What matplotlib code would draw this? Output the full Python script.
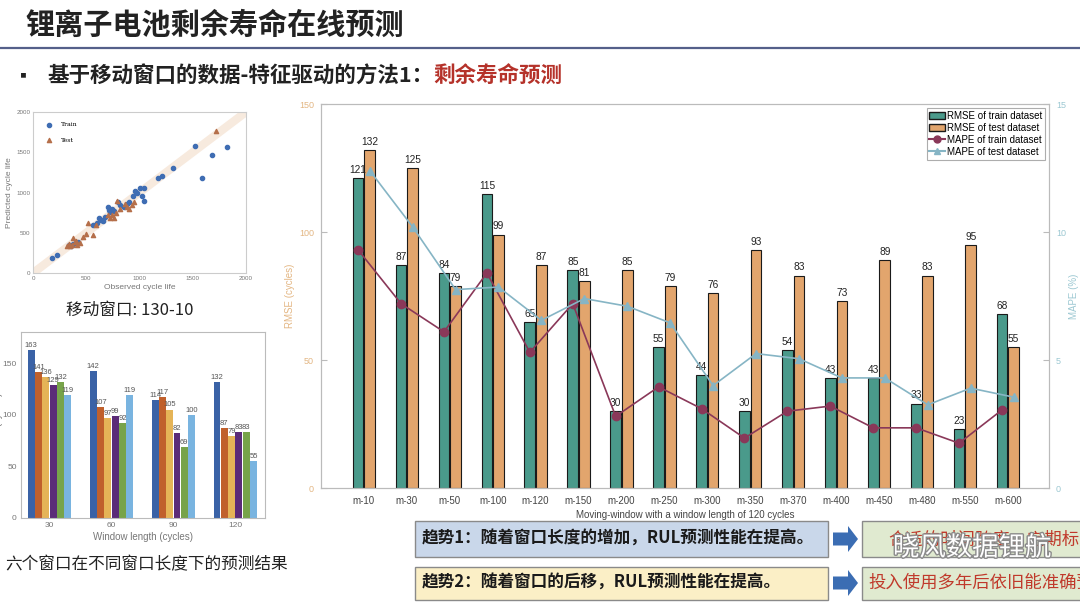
import matplotlib
matplotlib.use("Agg")
import matplotlib.pyplot as plt
import matplotlib.patches as mpatches
import matplotlib.patheffects as pe
from matplotlib.lines import Line2D
import numpy as np

CJK = ['Noto Sans CJK SC', 'DejaVu Sans']
plt.rcParams['font.family'] = ['Liberation Sans', 'DejaVu Sans']

# ---- main chart data
windows = ['m-10', 'm-30', 'm-50', 'm-100', 'm-120', 'm-150', 'm-200', 'm-250',
           'm-300', 'm-350', 'm-370', 'm-400', 'm-450', 'm-480', 'm-550', 'm-600']
rmse_train = [121, 87, 84, 115, 65, 85, 30, 55, 44, 30, 54, 43, 43, 33, 23, 68]
rmse_test = [132, 125, 79, 99, 87, 81, 85, 79, 76, 93, 83, 73, 89, 83, 95, 55]
mape_train = [9.3, 7.2, 6.1, 8.4, 5.3, 7.2, 2.8, 3.95, 3.1, 1.95, 3.0, 3.2, 2.35, 2.35, 1.75, 3.05]
mape_test = [12.4, 10.2, 7.75, 7.85, 6.55, 7.4, 7.1, 6.45, 4.0, 5.25, 5.05, 4.3, 4.3, 3.25, 3.9, 3.55]

# ---- left bar chart data (six windows, four window lengths)
win_lengths = ['30', '60', '90', '120']
six_windows = [
    [163, 142, 114, 132],
    [141, 107, 117, 87],
    [136, 97, 105, 79],
    [129, 99, 82, 83],
    [132, 92, 69, 83],
    [119, 119, 100, 55],
]
six_colors = ['#3a62a6', '#c0602c', '#e5b457', '#5b2b78', '#77a34a', '#79b4e0']

# ---- left scatter data
train_obs = [180, 230, 340, 360, 380, 400, 420, 560, 600, 620, 640, 660, 680, 700, 710, 720,
             740, 760, 800, 820, 850, 880, 900, 940, 960, 980, 1000, 1020, 1040, 1040,
             1170, 1210, 1310, 1520, 1590, 1680, 1820]
train_pred = [190, 220, 350, 340, 360, 370, 380, 600, 620, 680, 660, 640, 700, 820, 780, 760,
              800, 770, 880, 840, 820, 860, 880, 960, 1020, 1000, 1060, 960, 1050, 900,
              1180, 1210, 1310, 1580, 1180, 1470, 1560]
test_obs = [320, 340, 350, 370, 390, 380, 400, 410, 440, 470, 500, 520, 560, 590, 700, 720,
            740, 760, 780, 790, 820, 860, 880, 900, 930, 950, 1720]
test_pred = [330, 360, 340, 350, 380, 430, 400, 350, 370, 450, 480, 620, 470, 600, 720, 680,
             720, 680, 740, 900, 800, 860, 820, 800, 850, 880, 1760]

W, H = 1080, 607
fig = plt.figure(figsize=(10.8, 6.07), dpi=100)
fig.patch.set_facecolor('white')


def box(x0, y0, x1, y1):
    # pixel box -> figure fraction rect
    return [x0 / W, 1 - y1 / H, (x1 - x0) / W, (y1 - y0) / H]


# ---- header
fig.text(25 / W, 1 - 25 / H, '锂离子电池剩余寿命在线预测', family=CJK, fontsize=21,
         fontweight='bold', color='#222222', va='center')
fig.add_artist(Line2D([0, 1], [1 - 48 / H, 1 - 48 / H], transform=fig.transFigure,
                      color='#55608a', lw=1.6))
fig.text(20 / W, 1 - 76 / H, '▪', fontsize=14, color='#222222', va='center')
sub = fig.text(47 / W, 1 - 76 / H, '基于移动窗口的数据-特征驱动的方法1：', family=CJK,
               fontsize=15.5, fontweight='bold', color='#222222', va='center')
renderer = fig.canvas.get_renderer()
bb = sub.get_window_extent(renderer)
fig.text(bb.x1 / W, 1 - 76 / H, '剩余寿命预测', family=CJK, fontsize=15.5,
         fontweight='bold', color='#b5322a', va='center')

# ---- main chart
ax = fig.add_axes(box(321, 104, 1049, 488))
x = np.arange(len(windows))
bw = 0.25
off = 0.135
ax.bar(x - off, rmse_train, bw, color='#4a9a8b', edgecolor='#1a1a1a', lw=0.8, zorder=2)
ax.bar(x + off, rmse_test, bw, color='#e2a56d', edgecolor='#1a1a1a', lw=0.8, zorder=2)
for i in range(len(windows)):
    ax.text(x[i] - off, rmse_train[i] + 1.2, str(rmse_train[i]), ha='center', va='bottom',
            fontsize=7.3, color='#222222', zorder=5)
    ax.text(x[i] + off, rmse_test[i] + 1.2, str(rmse_test[i]), ha='center', va='bottom',
            fontsize=7.3, color='#222222', zorder=5)
ax.set_xlim(-1.0, len(windows) - 0.04)
ax.set_ylim(0, 150)
ax.set_yticks([0, 50, 100, 150])
ax.set_xticks(x)
ax.set_xticklabels(windows, fontsize=7, color='#444444')
ax.tick_params(axis='x', length=0, pad=6)
ax.tick_params(axis='y', direction='in', length=4, labelsize=6.5, labelcolor='#e3b683',
               color='#bbbbbb', pad=5)
ax.set_ylabel('RMSE (cycles)', fontsize=7, color='#e3b683', labelpad=3)
ax.set_xlabel('Moving-window with a window length of 120 cycles', fontsize=7,
              color='#444444', labelpad=3)
for s in ax.spines.values():
    s.set_color('#bbbbbb')

ax2 = ax.twinx()
ax2.plot(x - off, mape_train, color='#8a3859', marker='o', markersize=6, lw=1.2, zorder=4)
ax2.plot(x + off, mape_test, color='#86b5c5', marker='^', markersize=6, lw=1.2, zorder=4)
ax2.set_ylim(0, 15)
ax2.set_yticks([0, 5, 10, 15])
ax2.tick_params(axis='y', direction='in', length=4, labelsize=6.5, labelcolor='#9cc8d2',
                color='#bbbbbb', pad=5)
ax2.set_ylabel('MAPE (%)', fontsize=7, color='#9cc8d2', labelpad=2)
for s in ax2.spines.values():
    s.set_color('#bbbbbb')

handles = [
    mpatches.Patch(facecolor='#4a9a8b', edgecolor='#1a1a1a', label='RMSE of train dataset'),
    mpatches.Patch(facecolor='#e2a56d', edgecolor='#1a1a1a', label='RMSE of test dataset'),
    Line2D([], [], color='#8a3859', marker='o', markersize=5, label='MAPE of train dataset'),
    Line2D([], [], color='#86b5c5', marker='^', markersize=5, label='MAPE of test dataset'),
]
leg = ax2.legend(handles=handles, loc='upper right', fontsize=7, frameon=True, fancybox=False,
                 borderpad=0.3, labelspacing=0.2, handlelength=1.6, handletextpad=0.2,
                 borderaxespad=0.4)
leg.get_frame().set_edgecolor('#999999')
leg.get_frame().set_linewidth(0.8)

# ---- left scatter
axs = fig.add_axes(box(33, 112, 246, 273))
axs.plot([0, 2000], [0, 2000], color='#f3dcc8', lw=6, alpha=0.6, zorder=1)
axs.scatter(train_obs, train_pred, s=9, color='#3f6db3', marker='o', zorder=3, label='Train')
axs.scatter(test_obs, test_pred, s=9, color='#b56f4a', marker='^', zorder=3, label='Test')
axs.set_xlim(0, 2000)
axs.set_ylim(0, 2000)
axs.set_xticks([0, 500, 1000, 1500, 2000])
axs.set_yticks([0, 500, 1000, 1500, 2000])
axs.tick_params(labelsize=4.5, length=0, labelcolor='#777777', pad=2)
axs.set_xlabel('Observed cycle life', fontsize=6, color='#777777', labelpad=2)
axs.set_ylabel('Predicted cycle life', fontsize=6, color='#777777', labelpad=2)
for s in axs.spines.values():
    s.set_color('#cccccc')
axs.legend(loc='upper left', frameon=False, labelspacing=1.6,
           prop={'family': 'serif', 'size': 4.5}, borderaxespad=1.2)
fig.text(130 / W, 1 - 310 / H, '移动窗口: 130-10', family=CJK, fontsize=12, ha='center',
         va='center', color='#222222')

# ---- left grouped bars
axb = fig.add_axes(box(21, 332, 265, 518))
gx = np.arange(len(win_lengths))
bw2 = 0.118
for k, vals in enumerate(six_windows):
    pos = gx + (k - 2.5) * bw2
    axb.bar(pos, vals, bw2 * 0.95, color=six_colors[k], zorder=2)
    for p, v in zip(pos, vals):
        axb.text(p, v + 1, str(v), ha='center', va='bottom', fontsize=5.5, color='#555555')
axb.set_xlim(-0.46, 3.48)
axb.set_ylim(0, 180)
axb.set_yticks([0, 50, 100, 150])
axb.set_xticks(gx)
axb.set_xticklabels(win_lengths)
axb.tick_params(labelsize=6, length=0, labelcolor='#777777', pad=3)
axb.set_xlabel('Window length (cycles)', fontsize=7, color='#777777', labelpad=2)
axb.set_ylabel('RMSE (cycles)', fontsize=7, color='#777777', labelpad=0)
for s in axb.spines.values():
    s.set_color('#bbbbbb')
fig.text(5 / W, 1 - 565 / H, '六个窗口在不同窗口长度下的预测结果', family=CJK, fontsize=12,
         va='center', color='#222222')

# ---- trend boxes at the bottom
fig.add_artist(mpatches.Rectangle((415 / W, 1 - 557 / H), 413 / W, 36 / H,
                                  transform=fig.transFigure, facecolor='#c9d7ea',
                                  edgecolor='#8a8a8a', lw=1))
fig.text(422 / W, 1 - 539 / H, '趋势1：随着窗口长度的增加，RUL预测性能在提高。', family=CJK,
         fontsize=12, fontweight='bold', va='center', color='#1a1a1a')
fig.add_artist(mpatches.Rectangle((415 / W, 1 - 600 / H), 413 / W, 33 / H,
                                  transform=fig.transFigure, facecolor='#fbefc6',
                                  edgecolor='#8a8a8a', lw=1))
fig.text(422 / W, 1 - 583 / H, '趋势2：随着窗口的后移，RUL预测性能在提高。', family=CJK,
         fontsize=12, fontweight='bold', va='center', color='#1a1a1a')

for yc in (539, 583):
    fig.add_artist(mpatches.FancyArrow(833 / W, 1 - yc / H, 25 / W, 0, width=13 / H,
                                       head_width=26 / H, head_length=10 / W,
                                       length_includes_head=True, transform=fig.transFigure,
                                       facecolor='#3b6db3', edgecolor='none'))

fig.add_artist(mpatches.Rectangle((862 / W, 1 - 557 / H), 230 / W, 36 / H,
                                  transform=fig.transFigure, facecolor='#e0ead0',
                                  edgecolor='#8a8a8a', lw=1))
fig.text(888 / W, 1 - 539 / H, '合适的时间跨度，定期标定', family=CJK, fontsize=12.5,
         va='center', color='#c0392b')
fig.add_artist(mpatches.Rectangle((862 / W, 1 - 600 / H), 230 / W, 33 / H,
                                  transform=fig.transFigure, facecolor='#e0ead0',
                                  edgecolor='#8a8a8a', lw=1))
fig.text(868 / W, 1 - 583 / H, '投入使用多年后依旧能准确预测', family=CJK, fontsize=12.5,
         va='center', color='#c0392b')

# watermark
wm = fig.text(893 / W, 1 - 548 / H, '晓风数据锂航', family=CJK, fontsize=19, va='center',
              color='white')
wm.set_path_effects([pe.withStroke(linewidth=2.0, foreground='#8a8a8a')])

fig.savefig('out.png', dpi=100)
